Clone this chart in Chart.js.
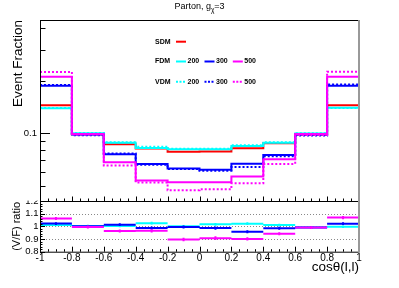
<!DOCTYPE html>
<html>
<head>
<meta charset="utf-8">
<script src="https://cdn.jsdelivr.net/npm/chart.js@4.4.1/dist/chart.umd.min.js"></script>
<style>
  html, body { margin: 0; padding: 0; background: #fff; }
  canvas { display: block; }
</style>
</head>
<body>
<canvas id="ch" width="399" height="288"></canvas>
<script>
// bin edges in cos(theta)
const binEdges = [-1, -0.8, -0.6, -0.4, -0.2, 0, 0.2, 0.4, 0.6, 0.8, 1];
const models = ['SDM', 'FDM', 'VDM'];
const masses = ['200', '300', '500'];

// event fractions per bin
const sdm    = [0.1445, 0.0987, 0.0865, 0.0819, 0.0785, 0.0787, 0.0821, 0.0877, 0.0984, 0.1445];
const fdm200 = [0.1389, 0.1000, 0.0884, 0.0824, 0.0810, 0.0810, 0.0846, 0.0884, 0.0997, 0.1401];
const vdm200 = [0.1395, 0.1004, 0.0888, 0.0838, 0.0816, 0.0816, 0.0854, 0.0888, 0.1000, 0.1395];
const fdm300 = [0.1871, 0.0984, 0.0759, 0.0668, 0.0629, 0.0619, 0.0670, 0.0752, 0.0984, 0.1871];
const vdm300 = [0.1888, 0.0975, 0.0767, 0.0661, 0.0625, 0.0611, 0.0642, 0.0740, 0.0971, 0.1900];
const fdm500 = [0.2105, 0.0991, 0.0683, 0.0537, 0.0525, 0.0525, 0.0566, 0.0710, 0.0991, 0.2105];
const vdm500 = [0.2240, 0.0984, 0.0655, 0.0523, 0.0472, 0.0478, 0.0518, 0.0668, 0.0978, 0.2250];

// V/F ratios and their errors
const ratio200 = [1.010, 1.003, 1.003, 1.025, 1.000, 1.016, 1.021, 1.010, 0.993, 0.997];
const ratio300 = [1.022, 1.000, 1.013, 0.987, 0.995, 0.986, 0.957, 0.985, 0.990, 1.021];
const ratio500 = [1.062, 0.995, 0.963, 0.965, 0.897, 0.907, 0.901, 0.941, 0.990, 1.069];
const err200 = [0.010, 0.010, 0.010, 0.011, 0.011, 0.011, 0.011, 0.010, 0.010, 0.010];
const err300 = [0.011, 0.010, 0.011, 0.012, 0.012, 0.012, 0.012, 0.011, 0.010, 0.011];
const err500 = [0.012, 0.011, 0.012, 0.013, 0.014, 0.014, 0.013, 0.012, 0.011, 0.012];

const xTickLabels = ['-1', '-0.8', '-0.6', '-0.4', '-0.2', '0', '0.2', '0.4', '0.6', '0.8', '1'];
const yMainLabels = ['0.1'];
const ratioGuides = [0.9, 1.0, 1.1];

const RED = '#ff0000', CYAN = '#00ffff', BLUE = '#0000ff', MAGENTA = '#ff00ff';
const massColors = [CYAN, BLUE, MAGENTA];

Chart.defaults.font.family = '"Liberation Sans", Arial, Helvetica, sans-serif';
Chart.defaults.color = '#000';

function histPoints(vals) {
    const pts = vals.map((v, i) => ({ x: binEdges[i], y: v }));
    pts.push({ x: binEdges[binEdges.length - 1], y: vals[vals.length - 1] });
    return pts;
}
function hbarPoints(vals) {
    const pts = [];
    vals.forEach((v, i) => {
        pts.push({ x: binEdges[i], y: v }, { x: binEdges[i + 1], y: v }, { x: binEdges[i + 1], y: null });
    });
    return pts;
}
function vbarPoints(vals, errs) {
    const pts = [];
    vals.forEach((v, i) => {
        const c = (binEdges[i] + binEdges[i + 1]) / 2;
        pts.push({ x: c, y: v - errs[i] }, { x: c, y: v + errs[i] }, { x: c, y: null });
    });
    return pts;
}
function hist(vals, color, dashed) {
    return {
        yAxisID: 'y', data: histPoints(vals), borderColor: color, borderWidth: 2,
        borderDash: dashed ? [2, 2] : [], stepped: 'before', pointRadius: 0, fill: false
    };
}
function ratioSet(pts, color) {
    return {
        yAxisID: 'yr', data: pts, borderColor: color, borderWidth: 2,
        pointRadius: 0, spanGaps: false, fill: false
    };
}

const datasets = [
    hist(sdm, RED, false),
    hist(fdm200, CYAN, false), hist(vdm200, CYAN, true),
    hist(fdm300, BLUE, false), hist(vdm300, BLUE, true),
    hist(fdm500, MAGENTA, false), hist(vdm500, MAGENTA, true),
    ratioSet(hbarPoints(ratio200), CYAN), ratioSet(vbarPoints(ratio200, err200), CYAN),
    ratioSet(hbarPoints(ratio300), BLUE), ratioSet(vbarPoints(ratio300, err300), BLUE),
    ratioSet(hbarPoints(ratio500), MAGENTA), ratioSet(vbarPoints(ratio500, err500), MAGENTA)
];
// first in list is drawn first (underneath)
datasets.forEach((d, i) => { d.order = datasets.length - i; });

const rootAxes = {
    id: 'rootAxes',
    beforeDatasetsDraw(chart) {
        const { ctx, scales: { x, yr } } = chart;
        ctx.save();
        ctx.strokeStyle = '#888';
        ctx.lineWidth = 1;
        ctx.setLineDash([1, 2]);
        ratioGuides.forEach(v => {
            const py = Math.round(yr.getPixelForValue(v)) + 0.5;
            ctx.beginPath(); ctx.moveTo(x.left, py); ctx.lineTo(x.right, py); ctx.stroke();
        });
        ctx.restore();
    },
    afterDatasetsDraw(chart) {
        const { ctx, scales: { x, y, yr } } = chart;
        const L = x.left, R = x.right;
        const line = (x1, y1, x2, y2) => { ctx.beginPath(); ctx.moveTo(x1, y1); ctx.lineTo(x2, y2); ctx.stroke(); };
        ctx.save();
        ctx.strokeStyle = '#000';
        ctx.lineWidth = 1;
        line(L + 0.5, y.top, L + 0.5, yr.bottom);
        line(L, y.top + 0.5, R, y.top + 0.5);
        line(L, y.bottom + 0.5, R, y.bottom + 0.5);
        line(L, yr.bottom + 0.5, R, yr.bottom + 0.5);

        // log ticks of the upper pad
        [0.05, 0.06, 0.07, 0.08, 0.09, 0.1, 0.2, 0.3, 0.4].forEach(v => {
            const py = Math.round(y.getPixelForValue(v)) + 0.5;
            line(L, py, L + (Math.abs(v - 0.1) < 1e-9 ? 10 : 5.5), py);
        });
        // x ticks on both pads
        for (let k = 0; k <= 40; k++) {
            const px = Math.round(x.getPixelForValue(-1 + k * 0.05)) + 0.5;
            const major = k % 4 === 0;
            line(px, y.bottom, px, y.bottom - (major ? 4.5 : 2.5));
            line(px, yr.bottom, px, yr.bottom - (major ? 5 : 2.5));
        }
        // ratio y ticks
        for (let k = 0; k <= 20; k++) {
            const py = Math.round(yr.getPixelForValue(0.8 + k * 0.02)) + 0.5;
            line(L, py, L + (k % 5 === 0 ? 5 : 2.5), py);
        }
        ctx.strokeStyle = '#999';
        ctx.lineWidth = 2;
        line(R, y.top, R, yr.bottom + 1);
        ctx.restore();
    },
    afterDraw(chart) {
        const { ctx, scales: { x, y } } = chart;
        ctx.save();
        // upper pad hides the top half of the "1.2" label
        ctx.fillStyle = '#fff';
        ctx.fillRect(0, y.bottom - 10, x.left - 0.5, 9.6);

        // title
        const cx = 199.5, ty = 7;
        const f1 = '9px "Liberation Sans", Arial, sans-serif';
        const f2 = '6.5px "Liberation Sans", Arial, sans-serif';
        ctx.fillStyle = '#000';
        ctx.textBaseline = 'middle';
        ctx.font = f1; const w1 = ctx.measureText('Parton, g').width; const w3 = ctx.measureText('=3').width;
        ctx.font = f2; const w2 = ctx.measureText('\u03c7').width;
        let tx = cx - (w1 + w2 + w3) / 2;
        ctx.textAlign = 'left';
        ctx.font = f1; ctx.fillText('Parton, g', tx, ty); tx += w1;
        ctx.font = f2; ctx.fillText('\u03c7', tx, ty + 3); tx += w2;
        ctx.font = f1; ctx.fillText('=3', tx, ty);

        // legend
        ctx.font = 'bold 7px "Liberation Sans", Arial, sans-serif';
        const rowsY = [41.7, 61.5, 81.7];
        const itemX = [176, 204.5, 232.8];
        models.forEach((m, r) => {
            ctx.fillStyle = '#000';
            ctx.fillText(m, 155, rowsY[r]);
            const items = r === 0 ? [{ c: RED, t: '' }] : masses.map((ms, j) => ({ c: massColors[j], t: ms }));
            items.forEach((it, j) => {
                ctx.strokeStyle = it.c;
                ctx.lineWidth = 2;
                ctx.setLineDash(r === 2 ? [2, 1.5] : []);
                ctx.beginPath();
                ctx.moveTo(itemX[j], rowsY[r]);
                ctx.lineTo(itemX[j] + 10, rowsY[r]);
                ctx.stroke();
                ctx.fillStyle = '#000';
                if (it.t) ctx.fillText(it.t, itemX[j] + 11.5, rowsY[r]);
            });
        });
        ctx.restore();
    }
};

new Chart(document.getElementById('ch').getContext('2d'), {
    type: 'line',
    data: { datasets: datasets },
    options: {
        responsive: false,
        animation: false,
        events: [],
        layout: { padding: { top: 20, right: 40, left: 0, bottom: 0 } },
        plugins: { legend: { display: false }, tooltip: { enabled: false } },
        scales: {
            x: {
                type: 'linear', min: -1, max: 1, position: 'bottom',
                grid: { display: false, drawTicks: false }, border: { display: false },
                ticks: {
                    stepSize: 0.2, padding: 1, font: { size: 10 }, autoSkip: false, maxRotation: 0,
                    callback: (v) => xTickLabels[Math.round((v + 1) / 0.2)]
                },
                title: { display: true, text: 'cos\u03b8(l,l)', align: 'end', font: { size: 13.5 }, padding: { top: 0, bottom: 12.9 } },
                afterFit: (s) => { s.height = 36.3; }
            },
            y: {
                type: 'logarithmic', min: 0.041, max: 0.444, position: 'left',
                stack: 'pads', stackWeight: 181, weight: 2,
                grid: { display: false, drawTicks: false }, border: { display: false },
                ticks: {
                    autoSkip: false, padding: 3, font: { size: 9.5 },
                    callback: (v) => yMainLabels.find(l => Math.abs(+l - v) < 1e-9) || ''
                },
                title: { display: true, text: 'Event Fraction', align: 'end', font: { size: 13.5 }, padding: { top: 9.9, bottom: 0 } },
                afterFit: (s) => { s.width = 40; }
            },
            yr: {
                type: 'linear', min: 0.8, max: 1.2, position: 'left',
                stack: 'pads', stackWeight: 50.7, weight: 1,
                grid: { display: false, drawTicks: false }, border: { display: false },
                ticks: {
                    stepSize: 0.1, autoSkip: false, padding: 1.5, font: { size: 9.5 },
                    callback: (v) => String(+v.toFixed(2))
                },
                title: { display: true, text: '(V/F) ratio', align: 'center', font: { size: 11 }, padding: { top: 10.1, bottom: 0 } },
                afterFit: (s) => { s.width = 40; }
            }
        }
    },
    plugins: [rootAxes]
});
</script>
</body>
</html>
